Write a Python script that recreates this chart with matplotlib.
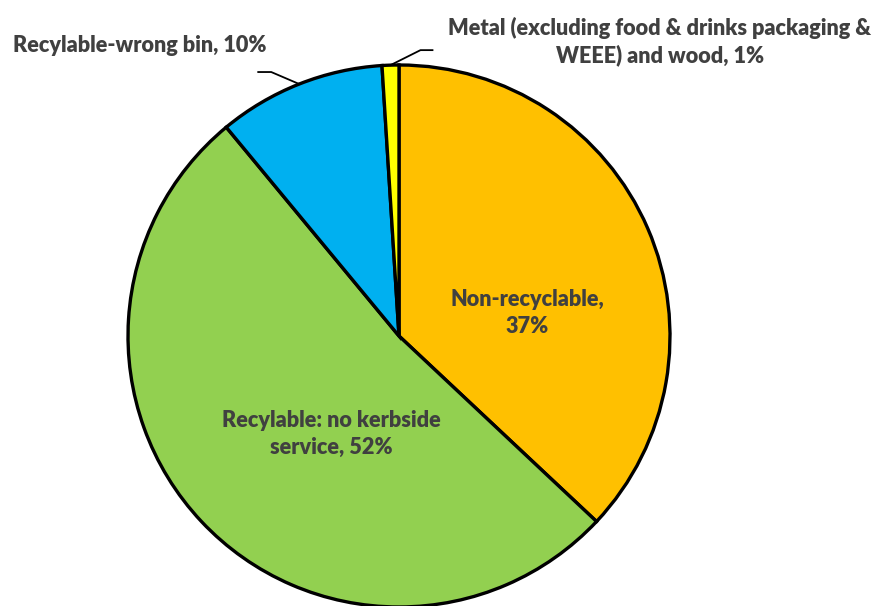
import numpy as np
import matplotlib.pyplot as plt

W, H = 883, 606

categories = [
    "Non-recyclable",
    "Recylable: no kerbside service",
    "Recylable-wrong bin",
    "Metal (excluding food & drinks packaging & WEEE) and wood",
]
shares = [37, 52, 10, 1]
colors = ["#FFC000", "#92D050", "#00B0F0", "#FFFF00"]

TEXT = "#404040"
FONT = ["Lato", "DejaVu Sans"]

fig = plt.figure(figsize=(W / 100, H / 100), dpi=100)
ax = fig.add_axes([0, 0, 1, 1])

cx, cy, r = 399, H - 336, 271
wedges, _ = ax.pie(
    shares,
    colors=colors,
    startangle=90,
    counterclock=False,
    center=(cx, cy),
    radius=r,
    frame=True,
    wedgeprops=dict(edgecolor="black", linewidth=2.4),
)
ax.set_xlim(0, W)
ax.set_ylim(0, H)
ax.set_aspect("equal")
ax.axis("off")

fs = 15.6
kw = dict(color=TEXT, fontsize=fs, fontweight="heavy", family=FONT,
          ha="center", va="center", linespacing=1.3)

# labels inside the two large slices
ax.text(527, H - 313, f"{categories[0]},\n{shares[0]}%", **kw)
ax.text(331, H - 434, f"Recylable: no kerbside\nservice, {shares[1]}%", **kw)


def edge_point(w):
    mid = np.deg2rad((w.theta1 + w.theta2) / 2)
    return cx + r * np.cos(mid), cy + r * np.sin(mid)


# leader for the blue slice
x0, y0 = edge_point(wedges[2])
ax.plot([x0, x0 - 28, x0 - 41], [y0, y0 + 12, y0 + 12], color="black", lw=1.3)
ax.text(140, H - 46, f"{categories[2]}, {shares[2]}%", **kw)

# leader for the thin yellow slice
x1, y1 = edge_point(wedges[3])
ax.plot([x1, x1 + 30, x1 + 42], [y1, y1 + 15, y1 + 15], color="black", lw=1.3)
ax.text(660, H - 42, "Metal (excluding food & drinks packaging &\nWEEE) and wood, "
        f"{shares[3]}%", **kw)

fig.savefig("out.png", dpi=100)
